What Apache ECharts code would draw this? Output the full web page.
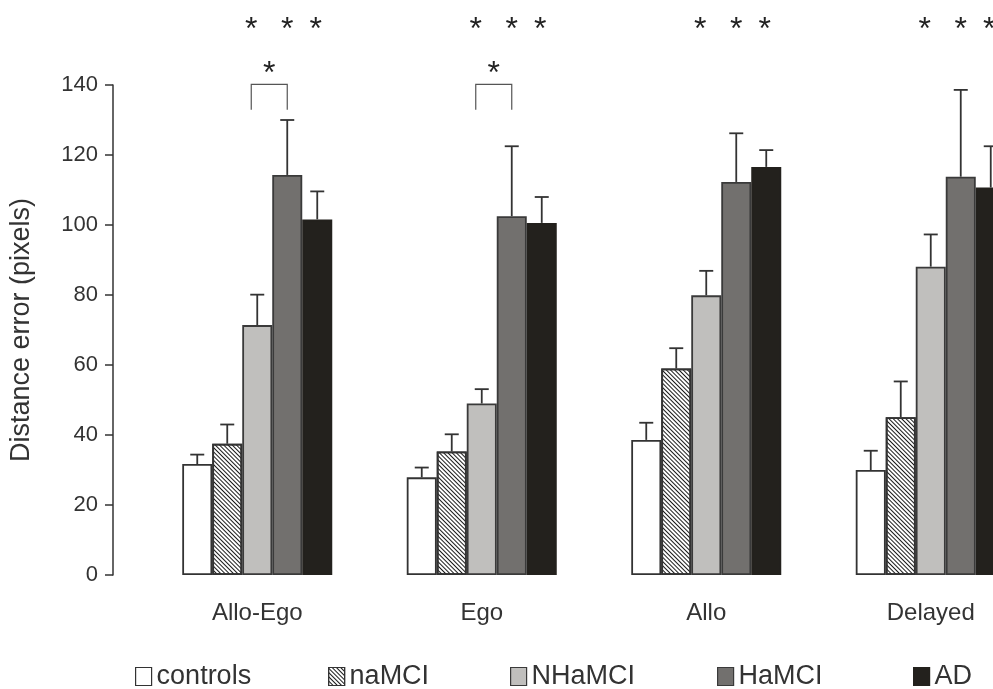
<!DOCTYPE html>
<html><head><meta charset="utf-8">
<script src="https://cdn.jsdelivr.net/npm/echarts@6/dist/echarts.min.js"></script>
<style>html,body{margin:0;padding:0;background:#fff}#c{width:993px;height:689px}</style>
</head><body><div id="c"></div>
<script>
// ---- data ----
const categories = ['Allo-Ego', 'Ego', 'Allo', 'Delayed'];
const groupNames = ['controls', 'naMCI', 'NHaMCI', 'HaMCI', 'AD'];
const controls = [31.7, 27.9, 38.6, 30.0];
const naMCI    = [37.5, 35.3, 59.0, 45.1];
const NHaMCI   = [71.4, 49.0, 79.9, 88.1];
const HaMCI    = [114.3, 102.5, 112.3, 113.8];
const AD       = [101.6, 100.6, 116.6, 110.7];
// upper end of each error bar
const controlsErr = [34.4, 30.7, 43.5, 35.5];
const naMCIErr    = [43.0, 40.2, 64.8, 55.3];
const NHaMCIErr   = [80.1, 53.1, 86.9, 97.3];
const HaMCIErr    = [130.0, 122.5, 126.2, 138.6];
const ADErr       = [109.6, 108.0, 121.4, 122.5];
const yMin = 0, yMax = 140, yStep = 20;
// significance marks
const starLevel = 157.8;                 // row of three stars above each group
const starBars = [1.8, 3, 3.95];         // bar slots (0..4) the stars sit over
const bracketCats = [0, 1];              // groups with a bracket
const bracketFrom = 1.8, bracketTo = 3.0;
const bracketTop = 140.2, bracketLeg = 132.9, bracketStar = 145.3;

// ---- styles ----
const BAR_W = 30, CAP = 7;
const FONT = 'Liberation Sans, Arial, sans-serif';
const TXT = '#333';
const values = [controls, naMCI, NHaMCI, HaMCI, AD];
const errs = [controlsErr, naMCIErr, NHaMCIErr, HaMCIErr, ADErr];
const fills = ['#ffffff', '#ffffff', '#c0bfbd', '#72706e', '#23211d'];
const borders = ['#333', '#333', '#3a3a3a', '#3a3a3a', '#23211d'];

const barSeries = groupNames.map((n, i) => {
  const s = {
    name: n, type: 'bar', data: values[i], barWidth: BAR_W, barGap: '0%',
    itemStyle: { color: fills[i], borderColor: borders[i], borderWidth: 1.8 },
    emphasis: { disabled: true }
  };
  if (i === 1) {
    s.itemStyle.decal = {
      symbol: 'rect', symbolSize: 1, dashArrayX: [1, 0], dashArrayY: [0.9, 1.4],
      rotation: Math.PI / 4, color: '#1a1a1a'
    };
  }
  return s;
});

const errData = [];
errs.forEach((arr, s) => arr.forEach((e, c) => errData.push([c, s, values[s][c], e])));

const starData = [];
categories.forEach((_, c) => starBars.forEach(b => starData.push([c, b, starLevel])));
bracketCats.forEach(c => starData.push([c, (bracketFrom + bracketTo) / 2, bracketStar]));

const bracketData = bracketCats.map(c => [c, bracketFrom, bracketTo, bracketTop, bracketLeg]);

const STAR_F = 32;

const option = {
  animation: false,
  textStyle: { fontFamily: FONT },
  grid: { left: 145, top: 85, width: 898, height: 490, outerBoundsMode: 'none', containLabel: false },
  xAxis: {
    type: 'category', data: categories,
    axisLine: { show: false }, axisTick: { show: false },
    axisLabel: { color: TXT, fontSize: 24, margin: 26, fontFamily: FONT }
  },
  yAxis: {
    type: 'value', min: yMin, max: yMax, interval: yStep, offset: 32,
    name: 'Distance error (pixels)', nameLocation: 'middle', nameGap: 78,
    nameTextStyle: { color: TXT, fontSize: 27, fontFamily: FONT },
    axisLine: { show: true, lineStyle: { color: '#333', width: 1.5 } },
    axisTick: { show: true, length: 8, lineStyle: { color: '#333', width: 1.5 } },
    axisLabel: { color: TXT, fontSize: 22, margin: 15, fontFamily: FONT },
    splitLine: { show: false }
  },
  legend: groupNames.map((n, i) => ({
    data: [n], left: [130, 323, 505, 712, 908][i], top: 658,
    icon: 'rect', itemWidth: 16, itemHeight: 18, itemGap: 6,
    itemStyle: { borderWidth: 1.2 },
    textStyle: { color: TXT, fontSize: 27, fontFamily: FONT },
    selectedMode: false
  })),
  series: [
    ...barSeries,
    {
      type: 'custom', name: 'err', data: errData, encode: { x: 0, y: 3 }, z: 3,
      renderItem(params, api) {
        const c = api.value(0), s = api.value(1);
        const b = api.coord([c, api.value(2)]);
        const e = api.coord([c, api.value(3)]);
        const x = b[0] + (s - 2) * BAR_W;
        const st = { stroke: '#333', lineWidth: 1.8 };
        return { type: 'group', children: [
          { type: 'line', shape: { x1: x, y1: b[1], x2: x, y2: e[1] }, style: st },
          { type: 'line', shape: { x1: x - CAP, y1: e[1], x2: x + CAP, y2: e[1] }, style: st }
        ]};
      }
    },
    {
      type: 'custom', name: 'stars', data: starData, encode: { x: 0, y: 2 }, z: 3,
      renderItem(params, api) {
        const c = api.value(0), b = api.value(1);
        const p = api.coord([c, api.value(2)]);
        return {
          type: 'text', x: p[0] + (b - 2) * BAR_W, y: p[1] + STAR_F * 0.24,
          style: { text: '*', fontSize: STAR_F, fontFamily: FONT, fill: '#222', align: 'center', verticalAlign: 'middle' }
        };
      }
    },
    {
      type: 'custom', name: 'brackets', data: bracketData, encode: { x: 0, y: 3 }, z: 3,
      renderItem(params, api) {
        const c = api.value(0);
        const t = api.coord([c, api.value(3)]);
        const l = api.coord([c, api.value(4)]);
        const x1 = t[0] + (api.value(1) - 2) * BAR_W;
        const x2 = t[0] + (api.value(2) - 2) * BAR_W;
        return {
          type: 'polyline',
          shape: { points: [[x1, l[1]], [x1, t[1]], [x2, t[1]], [x2, l[1]]] },
          style: { stroke: '#555', lineWidth: 1.2, fill: null }
        };
      }
    }
  ]
};
const chart = echarts.init(document.getElementById('c'), null, { renderer: 'canvas' });
chart.setOption(option);
</script></body></html>
